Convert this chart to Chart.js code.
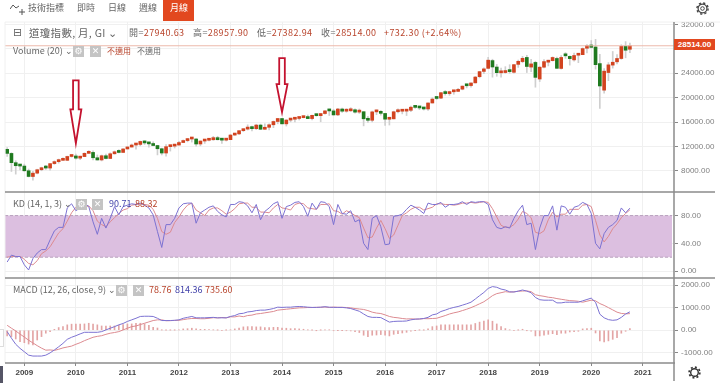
<!DOCTYPE html>
<html>
<head>
<meta charset="utf-8">
<script src="https://cdn.jsdelivr.net/npm/chart.js@4/dist/chart.umd.min.js"></script>
<style>
  html, body { margin: 0; padding: 0; background: #fff; }
  #wrap { position: relative; width: 720px; height: 383px; overflow: hidden; font-family: "Noto Sans CJK TC", "Noto Sans", sans-serif; }
  canvas { position: absolute; left: 0; top: 0; }
  .t { position: absolute; white-space: nowrap; font-size: 9px; line-height: 12px; color: #666; z-index: 2; }
  .r { color: #b8442c; }
  .b { color: #3f3fa8; }
  .box { position: absolute; width: 11px; height: 11px; background: #c4c4c4; color: #fff; font: 9px/11px "DejaVu Sans"; text-align: center; z-index: 2; }
  svg { position: absolute; z-index: 2; }
</style>
</head>
<body>
<div id="wrap">
  <canvas id="chart" width="720" height="383"></canvas>

  <!-- toolbar -->
  <div style="position:absolute;left:163px;top:0;width:31px;height:21px;background:#e2481f;z-index:1"></div>
  <svg style="left:10px;top:3px" width="15" height="12" fill="none" stroke="#555" stroke-width="1">
    <path d="M0 6 L3 2 L6 5 L9 3"/><path d="M12 6 V12 M9 9 H15"/>
  </svg>
  <span class="t" style="left:28px;top:2px">技術指標</span>
  <span class="t" style="left:77px;top:2px">即時</span>
  <span class="t" style="left:108px;top:2px">日線</span>
  <span class="t" style="left:139px;top:2px">週線</span>
  <span class="t" style="left:170px;top:2px;color:#fff">月線</span>
  <svg style="left:696px;top:2px" width="13" height="13" fill="none" stroke="#444">
    <circle cx="6.5" cy="6.5" r="1.8"/><circle cx="6.5" cy="6.5" r="4.4" stroke-width="1.2"/>
    <circle cx="6.5" cy="6.5" r="5.6" stroke-width="1.4" stroke-dasharray="2.2 2.2"/>
  </svg>

  <!-- header -->
  <span class="t" style="left:13px;top:27px;font:11px/12px 'DejaVu Sans'">⊟</span>
  <span class="t" style="left:29px;top:27px;font-size:10.5px;letter-spacing:.3px">道瓊指數, 月, GI ⌄</span>
  <span class="t" style="left:129px;top:27px;letter-spacing:.4px">開=<span class="r">27940.63</span></span>
  <span class="t" style="left:193px;top:27px;letter-spacing:.4px">高=<span class="r">28957.90</span></span>
  <span class="t" style="left:257px;top:27px;letter-spacing:.4px">低=<span class="r">27382.94</span></span>
  <span class="t" style="left:321px;top:27px;letter-spacing:.4px">收=<span class="r">28514.00</span></span>
  <span class="t r" style="left:384px;top:27px;letter-spacing:.4px">+732.30 (+2.64%)</span>

  <!-- volume row -->
  <span class="t" style="left:13px;top:45px">Volume (20) ⌄</span>
  <div class="box" style="left:73px;top:46px">⚙</div>
  <div class="box" style="left:90px;top:46px">✕</div>
  <span class="t r" style="left:107px;top:45px;font-size:8px">不適用</span>
  <span class="t" style="left:137px;top:45px;font-size:8px">不適用</span>

  <!-- KD row -->
  <span class="t" style="left:13px;top:198px">KD (14, 1, 3) ⌄</span>
  <div class="box" style="left:76px;top:199px">⚙</div>
  <div class="box" style="left:92px;top:199px">✕</div>
  <span class="t b" style="left:109px;top:198px">90.71</span>
  <span class="t r" style="left:135px;top:198px">88.32</span>

  <!-- MACD row -->
  <span class="t" style="left:13px;top:284px">MACD (12, 26, close, 9) ⌄</span>
  <div class="box" style="left:116px;top:285px">⚙</div>
  <div class="box" style="left:133px;top:285px">✕</div>
  <span class="t r" style="left:149px;top:284px">78.76</span>
  <span class="t b" style="left:175px;top:284px">814.36</span>
  <span class="t r" style="left:205px;top:284px">735.60</span>

  <!-- price tag and corner bits -->
  <div style="position:absolute;left:674px;top:39px;width:41px;height:11px;background:#e2481f;color:#fff;font:bold 8px/11px 'Liberation Sans';text-align:center;z-index:2">28514.00</div>
  <svg style="left:688px;top:366px" width="13" height="13" fill="none" stroke="#333">
    <circle cx="6.5" cy="6.5" r="3.8" stroke-width="1.4"/>
    <circle cx="6.5" cy="6.5" r="5.4" stroke-width="1.6" stroke-dasharray="2 2.2"/>
  </svg>
  <div style="position:absolute;left:0;top:366px;width:3px;height:17px;background:#556;z-index:2"></div>
  <div style="position:absolute;left:0;top:329px;width:3px;height:16px;border:1px solid #ddd;border-left:0;background:#fff;z-index:2"></div>
</div>

<script>
const months = [
  '2008-09','2008-10','2008-11','2008-12',
  '2009-01','2009-02','2009-03','2009-04','2009-05','2009-06','2009-07','2009-08','2009-09','2009-10','2009-11','2009-12',
  '2010-01','2010-02','2010-03','2010-04','2010-05','2010-06','2010-07','2010-08','2010-09','2010-10','2010-11','2010-12',
  '2011-01','2011-02','2011-03','2011-04','2011-05','2011-06','2011-07','2011-08','2011-09','2011-10','2011-11','2011-12',
  '2012-01','2012-02','2012-03','2012-04','2012-05','2012-06','2012-07','2012-08','2012-09','2012-10','2012-11','2012-12',
  '2013-01','2013-02','2013-03','2013-04','2013-05','2013-06','2013-07','2013-08','2013-09','2013-10','2013-11','2013-12',
  '2014-01','2014-02','2014-03','2014-04','2014-05','2014-06','2014-07','2014-08','2014-09','2014-10','2014-11','2014-12',
  '2015-01','2015-02','2015-03','2015-04','2015-05','2015-06','2015-07','2015-08','2015-09','2015-10','2015-11','2015-12',
  '2016-01','2016-02','2016-03','2016-04','2016-05','2016-06','2016-07','2016-08','2016-09','2016-10','2016-11','2016-12',
  '2017-01','2017-02','2017-03','2017-04','2017-05','2017-06','2017-07','2017-08','2017-09','2017-10','2017-11','2017-12',
  '2018-01','2018-02','2018-03','2018-04','2018-05','2018-06','2018-07','2018-08','2018-09','2018-10','2018-11','2018-12',
  '2019-01','2019-02','2019-03','2019-04','2019-05','2019-06','2019-07','2019-08','2019-09','2019-10','2019-11','2019-12',
  '2020-01','2020-02','2020-03','2020-04','2020-05','2020-06','2020-07','2020-08','2020-09','2020-10','2020-11','2020-12',
  '2021-01','2021-02','2021-03','2021-04','2021-05','2021-06','2021-07','2021-08'
];

const opens = [
  11516,10847,9325,8829,
  8772,8000,7056,7608,8168,8500,8447,9172,9497,9712,9713,10343,
  10430,10068,10325,10857,11009,10136,9773,10465,10016,10789,11119,11006,
  11577,11892,12226,12321,12811,12570,12415,12144,11614,10913,11955,12046,
  12221,12633,12952,13212,13214,12394,12880,13009,13090,13437,13096,13025,
  13104,13861,14054,14578,14839,15116,14911,15500,14811,15132,15546,16086,
  16572,15698,16321,16458,16581,16716,16828,16564,17098,17043,17391,17828,
  17823,17169,18134,17776,17841,18011,17624,17690,16528,16285,17664,17720,
  17405,16453,16517,17686,17774,17787,17925,18431,18419,18308,18141,19122,
  19872,19923,20957,20665,20962,21030,21392,21961,21982,22423,23443,24306,
  24809,26083,25024,24076,24117,24542,24161,25461,25916,26598,25015,25779,
  23058,24999,25820,26075,26430,24790,26964,26774,26198,26963,27050,28110,
  28639,28319,25591,21227,24120,25342,25880,26419,28439,27940.63
];
const highs = [
  11790,10970,9654,9026,
  9088,8280,7924,8258,8587,8877,9174,9630,9917,10119,10406,10580,
  10729,10402,10957,11309,11258,10594,10584,10720,10948,11245,11452,11625,
  11983,12391,12419,12876,12929,12570,12754,12172,11717,12284,12188,12359,
  12842,13056,13290,13338,13280,12899,13160,13330,13653,13661,13290,13307,
  13969,14149,14585,14888,15542,15340,15634,15658,15709,15722,16175,16588,
  16589,16398,16588,16632,16736,16978,17152,17153,17351,17396,17895,18103,
  18094,18245,18289,18175,18351,18168,18137,17716,16933,17799,17978,17889,
  17405,16796,17790,18168,17935,18017,18622,18668,18450,18399,19152,19987,
  20125,20892,21169,21071,21112,21535,21929,22179,22420,23485,24328,24876,
  26617,26307,25450,24858,25086,25403,25462,26168,26770,26952,26277,25980,
  25100,26241,26156,26696,26667,26907,27399,26864,27306,27202,28175,28702,
  29374,29569,27102,24764,25759,27580,27072,28679,29199,28957.90
];
const lows = [
  10365,7882,7449,8149,
  7909,6983,6469,7488,7999,8221,8087,9050,9252,9678,9679,10234,
  9908,9835,10325,10857,9774,9757,9614,9936,10016,10711,10929,11006,
  11577,11892,11555,12093,12309,11875,12093,10604,10597,10404,11231,11735,
  12221,12633,12743,12710,12035,12101,12492,12885,13005,13052,12471,12883,
  13104,13784,13937,14434,14687,14551,14758,14760,14777,14719,15074,15703,
  15699,15340,16015,16015,16334,16674,16562,16334,16945,16050,17278,17067,
  17136,17037,17579,17602,17736,17465,17399,15370,15942,16014,17210,17128,
  15450,15503,16517,17484,17331,17063,17713,18247,18027,17959,17884,19122,
  19678,19831,20413,20379,20553,20994,21279,21600,21709,22416,23243,23921,
  24741,23360,23509,23344,23997,23998,23997,24965,25733,24123,24268,21712,
  22639,24883,25208,25999,24816,24680,26442,25339,25978,25744,27046,27325,
  28170,24681,18214,20735,22789,24843,25524,26287,26537,27382.94
];
const closes = [
  10850,9325,8829,8776,
  8001,7063,7609,8168,8500,8447,9171,9496,9712,9713,10344,10428,
  10067,10325,10857,11009,10136,9774,10466,10015,10788,11118,11006,11578,
  11892,12226,12320,12811,12570,12414,12143,11614,10913,11955,12046,12218,
  12633,12952,13212,13214,12393,12880,13009,13090,13437,13096,13025,13104,
  13861,14054,14578,14839,15115,14910,15500,14810,15130,15546,16086,16577,
  15699,16322,16458,16580,16717,16827,16563,17098,17043,17391,17828,17823,
  17165,18133,17776,17841,18011,17620,17690,16528,16285,17664,17720,17425,
  16466,16517,17685,17774,17787,17930,18432,18401,18308,18142,19124,19762,
  19864,20812,20663,20941,21009,21350,21891,21948,22405,23377,24272,24719,
  26149,25029,24103,24163,24416,24271,25415,25965,26458,25116,25538,23327,
  24999,25916,25929,26593,24815,26600,26864,26403,26917,27046,28051,28538,
  28256,25409,21917,24346,25383,25813,26428,28430,27781,28514
];

const kLine = [
  13,23,21,21,
  9,1.5,18,26,31,31,45,58,63,63,91,97,
  87,91,98,93,71,53,76,62,76,93,81,93,
  95,97,96,98,95,91,81,57,34,67,67,76,
  91,97,98,98,69,84,88,92,94,86,81,78,
  96,96,100,99,94,84,96,74,86,91,97,100,
  76,93,95,99,100,93,79,98,89,100,99,93,
  67,96,83,82,87,71,74,40,31,76,80,64,
  38,39,79,80,82,89,95,92,88,83,98,96,
  96,99,92,96,96,97,100,96,100,99,100,100,
  96,74,63,61,64,62,76,87,95,67,69,31,
  62,80,80,94,59,94,92,82,92,94,99,96,
  83,40,32,54,63,67,73,91,84,90.71
];
const dLine = [
  20,21,21,21,
  17,11,9,15,25,29,35,45,55,61,72,84,
  92,92,92,94,87,72,67,64,71,77,83,88,
  90,95,96,97,96,95,89,76,57,53,56,70,
  78,88,95,98,88,84,80,88,91,91,87,82,
  85,90,97,98,98,92,92,85,85,84,91,96,
  91,90,88,96,98,97,91,90,89,96,96,97,
  87,86,82,87,84,80,77,62,48,49,62,73,
  61,47,52,66,80,84,89,92,92,88,90,92,
  97,97,96,96,95,96,98,98,99,98,99,100,
  99,90,78,66,63,63,67,75,86,83,77,56,
  54,58,74,85,78,82,82,89,89,89,95,96,
  93,73,52,42,50,61,68,77,83,88.32
];

const macdLine = [
  -60,-350,-620,-800,
  -950,-1100,-1140,-1140,-1140,-1100,-1000,-870,-730,-580,-400,-310,
  -240,-160,-90,-90,-90,-90,-60,15,90,160,240,300,
  390,460,530,610,620,620,610,530,430,430,430,440,
  460,530,570,610,550,550,550,560,570,550,550,550,
  610,650,730,750,810,830,870,890,890,920,960,1020,
  1010,1020,1020,1040,1050,1040,1020,1010,1010,1020,1040,1020,
  1010,1010,1010,990,960,900,840,720,610,570,570,560,
  460,360,390,400,400,410,460,490,500,520,570,680,
  720,830,890,960,1010,1050,1110,1170,1240,1380,1530,1670,
  1850,1930,1900,1820,1780,1700,1690,1730,1780,1730,1660,1450,
  1350,1330,1330,1330,1210,1210,1240,1240,1240,1240,1300,1360,
  1420,1240,710,550,470,440,460,570,720,814.36
];
const signalLine = [
  220,90,-30,-170,
  -300,-440,-560,-680,-790,-880,-870,-890,-840,-780,-740,-700,
  -620,-550,-460,-385,-310,-270,-240,-180,-130,-100,-60,15,
  90,160,190,250,310,370,430,460,460,420,425,435,
  440,470,500,520,520,510,510,530,555,545,565,545,
  595,590,630,600,650,670,720,740,770,800,830,890,
  910,930,950,970,990,995,1005,1005,1015,1015,1030,1005,
  1025,1015,1015,1005,990,960,940,920,870,800,760,740,
  680,610,570,550,520,500,505,495,495,515,510,520,
  530,590,650,720,770,810,870,930,1000,1080,1170,1260,
  1390,1530,1620,1660,1705,1685,1700,1725,1735,1740,1705,1570,
  1530,1500,1460,1440,1400,1370,1340,1310,1300,1280,1240,1285,
  1330,1300,1180,1100,1000,900,800,745,725,735.60
];
const macdHist = [
  -250,-280,-385,-500,
  -550,-610,-650,-430,-280,-130,-60,40,120,160,240,270,
  270,270,280,310,270,240,190,190,190,190,220,250,
  280,280,310,310,280,220,130,100,10,5,5,5,
  20,60,70,90,60,40,40,30,15,5,-15,5,
  15,60,100,150,160,160,150,150,120,120,130,130,
  100,90,70,70,60,45,15,5,-5,5,10,15,
  -15,-5,-5,-15,-30,-60,-100,-220,-280,-220,-210,-190,
  -220,-250,-180,-150,-120,-90,-45,-5,5,5,60,160,
  190,240,240,240,240,240,240,240,240,300,360,410,
  460,400,280,160,75,15,-10,5,45,-10,-45,-250,
  -250,-220,-180,-150,-190,-130,-130,-75,-60,-45,60,75,
  90,-120,-470,-520,-470,-400,-330,-130,-45,78.76
];

const priceTicks = [32000, 28000, 24000, 20000, 16000, 12000, 8000];
const kdTicks = [80, 40, 0];
const macdTicks = [2000, 1000, 0, -1000];
const kdBand = [20, 80];
const lastPrice = 28514;
const arrowMonths = ['2010-01', '2014-01'];
const arrowTips = [12480, 17625];
const arrowLengths = [63, 54];
const arrowHeads = [34, 28];

const upColor = '#d2431f';
const downColor = '#1f7a1f';
const candleColors = closes.map((c, i) => c >= opens[i] ? upColor : downColor);

const fixedTicks = list => scale => { scale.ticks = list.map(v => ({ value: v })); };
const axisWidth = scale => { scale.width = 45; };

const tickFont = { family: "'Liberation Sans', sans-serif", size: 8 };

function yAxis(min, max, weight, list, fmt) {
  return {
    position: 'right',
    stack: 'panels',
    stackWeight: weight,
    min: min,
    max: max,
    border: { display: false },
    grid: { color: '#f0f0f0', tickColor: '#888', tickLength: 3 },
    afterBuildTicks: fixedTicks(list),
    afterFit: axisWidth,
    ticks: { color: '#808080', font: tickFont, padding: 3, callback: fmt || (v => v.toFixed(2)) }
  };
}

// KD band, price line, panel borders and the two hand-drawn arrows
const overlay = {
  id: 'overlay',
  beforeDatasetsDraw(chart) {
    const { ctx, chartArea, scales } = chart;
    const top = scales.yKd.getPixelForValue(kdBand[1]);
    const bottom = scales.yKd.getPixelForValue(kdBand[0]);
    const right = chartArea.right - 3;
    ctx.save();
    ctx.fillStyle = '#dcbfe0';
    ctx.fillRect(chartArea.left, top, right - chartArea.left, bottom - top);
    ctx.strokeStyle = '#b9a0bd';
    ctx.setLineDash([3, 2]);
    ctx.beginPath();
    ctx.moveTo(chartArea.left, top); ctx.lineTo(right, top);
    ctx.moveTo(chartArea.left, bottom); ctx.lineTo(right, bottom);
    ctx.stroke();
    ctx.restore();
  },
  afterDatasetsDraw(chart) {
    const { ctx, chartArea, scales, width } = chart;
    const py = scales.y.getPixelForValue(lastPrice);
    ctx.save();
    ctx.strokeStyle = '#ecb9ab';
    ctx.lineWidth = 1;
    ctx.beginPath();
    ctx.moveTo(chartArea.left, py); ctx.lineTo(chartArea.right, py);
    ctx.stroke();

    ctx.strokeStyle = '#f0f0f0';
    ctx.beginPath();
    ctx.moveTo(chartArea.left, chartArea.top); ctx.lineTo(width, chartArea.top);
    ctx.moveTo(chartArea.left, chartArea.top); ctx.lineTo(chartArea.left, chartArea.bottom);
    ctx.stroke();

    ctx.strokeStyle = '#8c8c8c';
    ctx.lineWidth = 1.5;
    ctx.beginPath();
    [scales.yKd.top, scales.yMacd.top].forEach(y => {
      ctx.moveTo(chartArea.left, y); ctx.lineTo(width - 5, y);
    });
    ctx.moveTo(chartArea.left, chartArea.bottom); ctx.lineTo(chartArea.right, chartArea.bottom);
    ctx.moveTo(chartArea.right - 1, chartArea.top); ctx.lineTo(chartArea.right - 1, 381);
    ctx.stroke();

    ctx.strokeStyle = '#c4122f';
    ctx.fillStyle = '#fff';
    ctx.lineWidth = 1.8;
    arrowMonths.forEach((m, i) => {
      const x = scales.x.getPixelForValue(m);
      const tip = scales.y.getPixelForValue(arrowTips[i]);
      const head = tip - arrowHeads[i];
      const end = tip - arrowLengths[i];
      ctx.beginPath();
      ctx.moveTo(x, tip);
      ctx.lineTo(x - 5.5, head);
      ctx.lineTo(x - 2.8, head);
      ctx.lineTo(x - 2.8, end);
      ctx.lineTo(x + 2.8, end);
      ctx.lineTo(x + 2.8, head);
      ctx.lineTo(x + 5.5, head);
      ctx.closePath();
      ctx.fill();
      ctx.stroke();
    });
    ctx.restore();
  }
};

new Chart(document.getElementById('chart').getContext('2d'), {
  type: 'bar',
  data: {
    labels: months,
    datasets: [
      { label: 'wick', yAxisID: 'y', grouped: false, data: lows.map((l, i) => [l, highs[i]]), backgroundColor: '#cfcfcf', barThickness: 1, order: 5 },
      { label: 'candle', yAxisID: 'y', grouped: false, data: opens.map((o, i) => [o, closes[i]]), backgroundColor: candleColors, barThickness: 3, minBarLength: 2, order: 4 },
      { type: 'line', label: 'K', yAxisID: 'yKd', data: kLine, borderColor: '#7c72d2', borderWidth: 1, pointRadius: 0, tension: 0, order: 1 },
      { type: 'line', label: 'D', yAxisID: 'yKd', data: dLine, borderColor: '#dc8a90', borderWidth: 1, pointRadius: 0, tension: 0, order: 2 },
      { label: 'Histogram', yAxisID: 'yMacd', grouped: false, data: macdHist, backgroundColor: '#e3a5a5', barThickness: 1, order: 3 },
      { type: 'line', label: 'MACD', yAxisID: 'yMacd', data: macdLine, borderColor: '#7c72d2', borderWidth: 1, pointRadius: 0, tension: 0, order: 1 },
      { type: 'line', label: 'Signal', yAxisID: 'yMacd', data: signalLine, borderColor: '#dc8a90', borderWidth: 1, pointRadius: 0, tension: 0, order: 2 }
    ]
  },
  options: {
    responsive: false,
    animation: false,
    layout: { padding: { left: 5, top: 22, bottom: 2 } },
    plugins: { legend: { display: false }, tooltip: { enabled: false } },
    scales: {
      x: {
        offset: true,
        border: { display: false },
        grid: { offset: false, color: '#f0f0f0', tickColor: '#888', tickLength: 3 },
        afterBuildTicks: scale => { scale.ticks = scale.ticks.filter(t => months[t.value].endsWith('-01')); },
        afterFit: scale => { scale.height = 18; },
        ticks: {
          autoSkip: false, maxRotation: 0, color: '#444',
          font: { family: tickFont.family, size: 8, weight: 'bold' }, padding: 2,
          callback: v => months[v].slice(0, 4)
        }
      },
      y: yAxis(4515, 32415, 170, priceTicks, v => v === 28000 ? '' : v.toFixed(2)),
      yKd: yAxis(-10, 114, 86, kdTicks),
      yMacd: yAxis(-1447, 2310, 85, macdTicks)
    }
  },
  plugins: [overlay]
});
</script>
</body>
</html>
